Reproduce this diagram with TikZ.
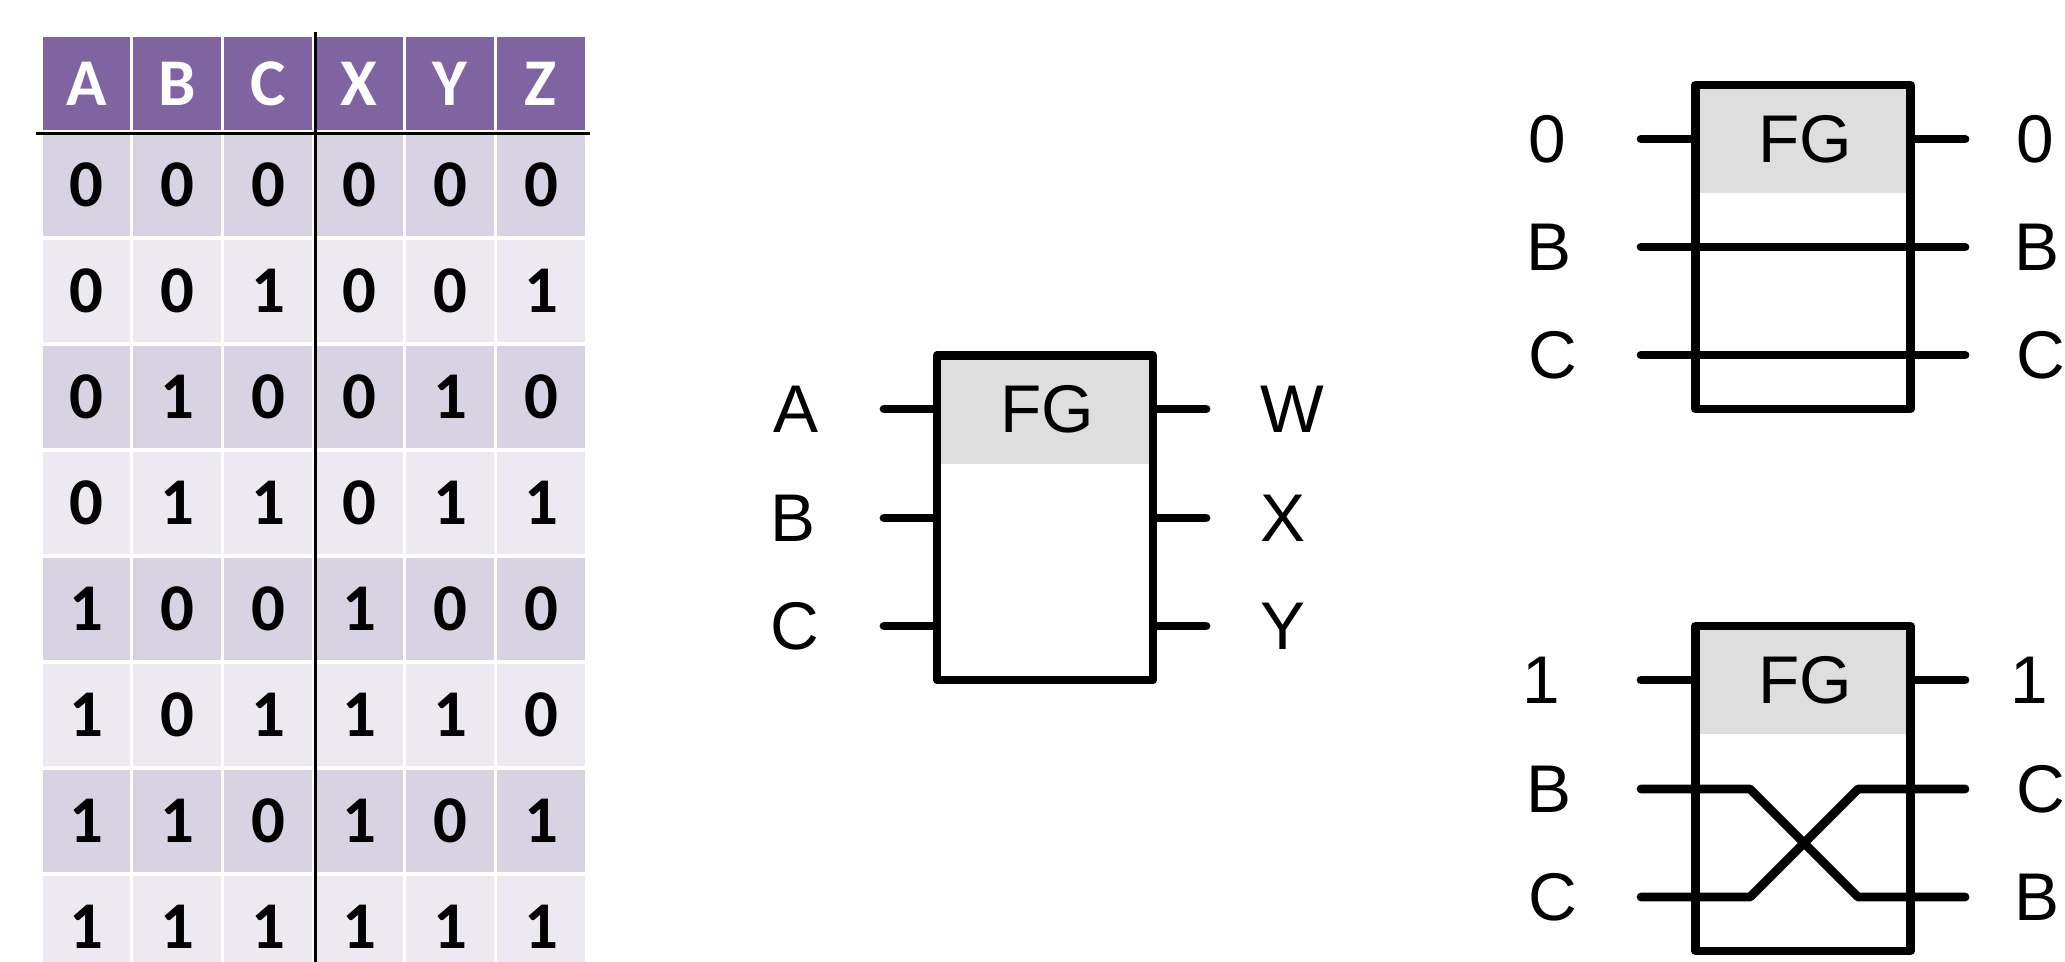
\documentclass[tikz,border=0pt]{standalone}
\usepackage{fontspec}
\setmainfont{Liberation Sans}
\newfontfamily\tabfont{Carlito}
\usetikzlibrary{positioning}
\definecolor{headpurple}{HTML}{8064A2}
\definecolor{rowdark}{HTML}{D8D3E2}
\definecolor{rowlight}{HTML}{ECEAF0}
\definecolor{fggray}{HTML}{DEDEDE}
\tikzset{
  cell/.style={draw=white, line width=0.9pt, minimum width=0.909cm, minimum height=1.06cm, inner sep=0pt, font=\tabfont\bfseries\fontsize{19}{19}\selectfont},
  headcell/.style={cell, fill=headpurple, text=white, minimum height=0.965cm},
  sepline/.style={line width=0.75pt, draw=black},
  fgbox/.style={draw=black, line width=2.4pt, line join=round, fill=white, inner sep=0pt,
    path picture={\fill[fggray] (path picture bounding box.north west) rectangle ([yshift=-1.08cm]path picture bounding box.north east);}},
  wire/.style={line width=2.5pt, line cap=round, line join=round},
  pinlabel/.style={anchor=west, inner sep=0pt, font=\fontsize{19.2}{19}\selectfont},
  fgtext/.style={inner sep=0pt, font=\fontsize{19.2}{19}\selectfont}
}

\begin{document}
\begin{tikzpicture}
  \useasboundingbox (0,0) rectangle (20.65,-9.62);
  \clip (0,0) rectangle (20.65,-9.62);

  % truth table
  \foreach \t [count=\c] in {A,B,C,X,Y,Z}
    \node[headcell] (h\c) at ({0.41+(\c-0.5)*0.909},-0.8375) {\t};
  \foreach \row [count=\r] in {{0,0,0,0,0,0},{0,0,1,0,0,1},{0,1,0,0,1,0},{0,1,1,0,1,1},
                               {1,0,0,1,0,0},{1,0,1,1,1,0},{1,1,0,1,0,1},{1,1,1,1,1,1}}{
    \ifodd\r\relax \def\rowcol{rowdark}\else \def\rowcol{rowlight}\fi
    \foreach \v [count=\c] in \row
      \node[cell, fill=\rowcol] (t\r-\c) at ({0.41+(\c-0.5)*0.909},{-1.32-(\r-0.5)*1.06}) {\v};
  }
  \draw[sepline] ([yshift=0.2mm]h3.north east) -- (t8-3.south east);
  \draw[sepline] ([xshift=-0.3mm]h1.south west) -- ([xshift=0.2mm]h6.south east);

  % general gate
  \node[fgbox, minimum width=2.16cm, minimum height=3.245cm] (fg) at (10.45,-5.178) {};
  \node[fgtext] (fgname) at (10.47,-4.09) {FG};
  \coordinate (inA) at (8.84,-4.09);
  \coordinate (inB) at (8.84,-5.18);
  \coordinate (inC) at (8.84,-6.26);
  \coordinate (outW) at (12.06,-4.09);
  \coordinate (outX) at (12.06,-5.18);
  \coordinate (outY) at (12.06,-6.26);
  \draw[wire] (inA) -- (inA -| fg.west);
  \draw[wire] (inB) -- (inB -| fg.west);
  \draw[wire] (inC) -- (inC -| fg.west);
  \draw[wire] (fg.east |- outW) -- (outW);
  \draw[wire] (fg.east |- outX) -- (outX);
  \draw[wire] (fg.east |- outY) -- (outY);
  \node[pinlabel] (labA) at (7.73,-4.09) {A};
  \node[pinlabel] (labB) at (7.70,-5.18) {B};
  \node[pinlabel] (labC) at (7.70,-6.26) {C};
  \node[pinlabel] (labW) at (12.60,-4.09) {W};
  \node[pinlabel] (labX) at (12.60,-5.18) {X};
  \node[pinlabel] (labY) at (12.60,-6.26) {Y};

  % control = 0
  \node[fgbox, minimum width=2.15cm, minimum height=3.24cm] (fgzero) at (18.03,-2.47) {};
  \node[fgtext] (zeroname) at (18.05,-1.39) {FG};
  \coordinate (zeroA) at (16.41,-1.39);
  \coordinate (zeroB) at (16.41,-2.47);
  \coordinate (zeroC) at (16.41,-3.55);
  \coordinate (zeroAout) at (19.65,-1.39);
  \coordinate (zeroBout) at (19.65,-2.47);
  \coordinate (zeroCout) at (19.65,-3.55);
  \draw[wire] (zeroA) -- (zeroA -| fgzero.west);
  \draw[wire] (fgzero.east |- zeroAout) -- (zeroAout);
  \draw[wire] (zeroB) -- (zeroBout);
  \draw[wire] (zeroC) -- (zeroCout);
  \node[pinlabel] (zlabA) at (15.28,-1.39) {0};
  \node[pinlabel] (zlabB) at (15.26,-2.47) {B};
  \node[pinlabel] (zlabC) at (15.28,-3.55) {C};
  \node[pinlabel] (zlabAo) at (20.16,-1.39) {0};
  \node[pinlabel] (zlabBo) at (20.14,-2.47) {B};
  \node[pinlabel] (zlabCo) at (20.16,-3.55) {C};

  % control = 1
  \node[fgbox, minimum width=2.15cm, minimum height=3.25cm] (fgone) at (18.03,-7.885) {};
  \node[fgtext] (onename) at (18.05,-6.80) {FG};
  \coordinate (oneA) at (16.41,-6.80);
  \coordinate (oneB) at (16.41,-7.89);
  \coordinate (oneC) at (16.41,-8.97);
  \coordinate (oneAout) at (19.65,-6.80);
  \coordinate (oneCout) at (19.65,-7.89);
  \coordinate (oneBout) at (19.65,-8.97);
  \coordinate (bendBl) at (17.50,-7.89);
  \coordinate (bendBr) at (18.58,-8.97);
  \coordinate (bendCl) at (17.50,-8.97);
  \coordinate (bendCr) at (18.58,-7.89);
  \draw[wire] (oneA) -- (oneA -| fgone.west);
  \draw[wire] (fgone.east |- oneAout) -- (oneAout);
  \draw[wire] (oneB) -- (bendBl) -- (bendBr) -- (oneBout);
  \draw[wire] (oneC) -- (bendCl) -- (bendCr) -- (oneCout);
  \node[pinlabel] (olabA) at (15.22,-6.80) {1};
  \node[pinlabel] (olabB) at (15.26,-7.89) {B};
  \node[pinlabel] (olabC) at (15.28,-8.97) {C};
  \node[pinlabel] (olabAo) at (20.10,-6.80) {1};
  \node[pinlabel] (olabCo) at (20.16,-7.89) {C};
  \node[pinlabel] (olabBo) at (20.14,-8.97) {B};
\end{tikzpicture}
\end{document}
